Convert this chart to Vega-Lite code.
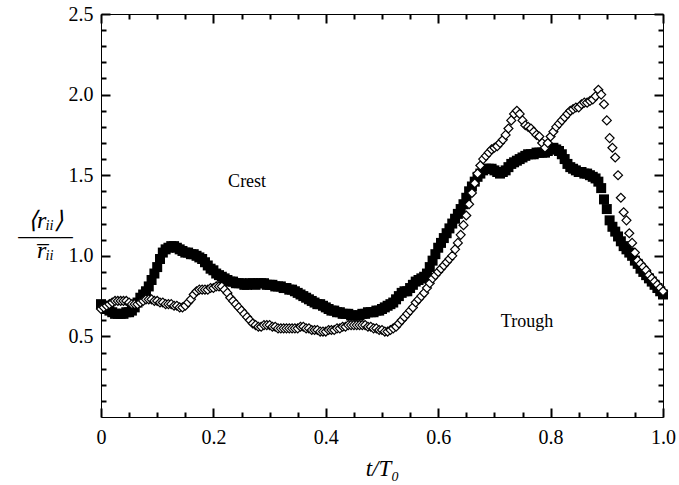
{
"$schema": "https://vega.github.io/schema/vega-lite/v6.json",
"width": 562, "height": 403,
"autosize": "none",
"padding": {"left": 101, "top": 14, "right": 16, "bottom": 68},
"background": "white",
"config": {"view": {"stroke": "black", "strokeWidth": 1}, "font": "Liberation Serif",
  "axis": {"grid": false, "domain": false, "labelColor": "black", "titleColor": "black", "labelFont": "Liberation Serif", "titleFont": "Liberation Serif", "labelFontSize": 20, "labelOverlap": false, "labelFlush": false}},
"data": {"values": [
{"t":0.000,"a":0.70,"b":0.67},{"t":0.005,"a":0.69,"b":0.68},{"t":0.010,"a":0.67,"b":0.69},{"t":0.015,"a":0.66,"b":0.70},{"t":0.020,"a":0.65,"b":0.71},
{"t":0.025,"a":0.64,"b":0.72},{"t":0.030,"a":0.64,"b":0.72},{"t":0.035,"a":0.64,"b":0.72},{"t":0.040,"a":0.64,"b":0.72},{"t":0.045,"a":0.65,"b":0.72},
{"t":0.050,"a":0.65,"b":0.71},{"t":0.055,"a":0.66,"b":0.70},{"t":0.060,"a":0.68,"b":0.70},{"t":0.065,"a":0.71,"b":0.70},{"t":0.070,"a":0.74,"b":0.71},
{"t":0.075,"a":0.76,"b":0.72},{"t":0.080,"a":0.78,"b":0.73},{"t":0.085,"a":0.81,"b":0.73},{"t":0.090,"a":0.85,"b":0.73},{"t":0.095,"a":0.89,"b":0.72},
{"t":0.100,"a":0.93,"b":0.72},{"t":0.105,"a":0.98,"b":0.71},{"t":0.110,"a":1.02,"b":0.71},{"t":0.115,"a":1.04,"b":0.70},{"t":0.120,"a":1.05,"b":0.70},
{"t":0.125,"a":1.06,"b":0.70},{"t":0.130,"a":1.06,"b":0.69},{"t":0.135,"a":1.05,"b":0.69},{"t":0.140,"a":1.04,"b":0.68},{"t":0.145,"a":1.03,"b":0.68},
{"t":0.150,"a":1.02,"b":0.69},{"t":0.155,"a":1.02,"b":0.71},{"t":0.160,"a":1.01,"b":0.73},{"t":0.165,"a":1.01,"b":0.76},{"t":0.170,"a":1.00,"b":0.78},
{"t":0.175,"a":0.99,"b":0.79},{"t":0.180,"a":0.98,"b":0.79},{"t":0.185,"a":0.96,"b":0.79},{"t":0.190,"a":0.94,"b":0.79},{"t":0.195,"a":0.92,"b":0.80},
{"t":0.200,"a":0.91,"b":0.80},{"t":0.205,"a":0.89,"b":0.81},{"t":0.210,"a":0.88,"b":0.81},{"t":0.215,"a":0.87,"b":0.81},{"t":0.220,"a":0.86,"b":0.79},
{"t":0.225,"a":0.85,"b":0.77},{"t":0.230,"a":0.84,"b":0.74},{"t":0.235,"a":0.84,"b":0.72},{"t":0.240,"a":0.83,"b":0.70},{"t":0.245,"a":0.83,"b":0.68},
{"t":0.250,"a":0.83,"b":0.66},{"t":0.255,"a":0.82,"b":0.64},{"t":0.260,"a":0.82,"b":0.62},{"t":0.265,"a":0.83,"b":0.60},{"t":0.270,"a":0.83,"b":0.58},
{"t":0.275,"a":0.82,"b":0.57},{"t":0.280,"a":0.83,"b":0.56},{"t":0.285,"a":0.83,"b":0.56},{"t":0.290,"a":0.83,"b":0.57},{"t":0.295,"a":0.82,"b":0.57},
{"t":0.300,"a":0.82,"b":0.57},{"t":0.305,"a":0.82,"b":0.56},{"t":0.310,"a":0.81,"b":0.56},{"t":0.315,"a":0.81,"b":0.55},{"t":0.320,"a":0.81,"b":0.55},
{"t":0.325,"a":0.80,"b":0.55},{"t":0.330,"a":0.80,"b":0.55},{"t":0.335,"a":0.79,"b":0.55},{"t":0.340,"a":0.79,"b":0.55},{"t":0.345,"a":0.78,"b":0.55},
{"t":0.350,"a":0.77,"b":0.55},{"t":0.355,"a":0.76,"b":0.56},{"t":0.360,"a":0.75,"b":0.56},{"t":0.365,"a":0.74,"b":0.55},{"t":0.370,"a":0.73,"b":0.55},
{"t":0.375,"a":0.72,"b":0.54},{"t":0.380,"a":0.71,"b":0.54},{"t":0.385,"a":0.70,"b":0.54},{"t":0.390,"a":0.70,"b":0.53},{"t":0.395,"a":0.69,"b":0.53},
{"t":0.400,"a":0.68,"b":0.53},{"t":0.405,"a":0.67,"b":0.54},{"t":0.410,"a":0.66,"b":0.54},{"t":0.415,"a":0.66,"b":0.54},{"t":0.420,"a":0.65,"b":0.55},
{"t":0.425,"a":0.65,"b":0.55},{"t":0.430,"a":0.64,"b":0.56},{"t":0.435,"a":0.64,"b":0.56},{"t":0.440,"a":0.64,"b":0.57},{"t":0.445,"a":0.63,"b":0.57},
{"t":0.450,"a":0.63,"b":0.57},{"t":0.455,"a":0.63,"b":0.57},{"t":0.460,"a":0.63,"b":0.57},{"t":0.465,"a":0.64,"b":0.57},{"t":0.470,"a":0.64,"b":0.57},
{"t":0.475,"a":0.65,"b":0.56},{"t":0.480,"a":0.65,"b":0.56},{"t":0.485,"a":0.65,"b":0.55},{"t":0.490,"a":0.66,"b":0.55},{"t":0.495,"a":0.66,"b":0.54},
{"t":0.500,"a":0.67,"b":0.54},{"t":0.505,"a":0.68,"b":0.53},{"t":0.510,"a":0.69,"b":0.53},{"t":0.515,"a":0.70,"b":0.54},{"t":0.520,"a":0.71,"b":0.55},
{"t":0.525,"a":0.73,"b":0.56},{"t":0.530,"a":0.75,"b":0.58},{"t":0.535,"a":0.77,"b":0.60},{"t":0.540,"a":0.78,"b":0.62},{"t":0.545,"a":0.78,"b":0.64},
{"t":0.550,"a":0.80,"b":0.66},{"t":0.555,"a":0.82,"b":0.68},{"t":0.560,"a":0.84,"b":0.71},{"t":0.565,"a":0.85,"b":0.73},{"t":0.570,"a":0.86,"b":0.75},
{"t":0.575,"a":0.87,"b":0.77},{"t":0.580,"a":0.89,"b":0.80},{"t":0.585,"a":0.93,"b":0.83},{"t":0.590,"a":0.97,"b":0.86},{"t":0.595,"a":1.01,"b":0.88},
{"t":0.600,"a":1.05,"b":0.90},{"t":0.605,"a":1.08,"b":0.92},{"t":0.610,"a":1.11,"b":0.94},{"t":0.615,"a":1.14,"b":0.96},{"t":0.620,"a":1.17,"b":0.98},
{"t":0.625,"a":1.20,"b":1.00},{"t":0.630,"a":1.23,"b":1.04},{"t":0.635,"a":1.26,"b":1.08},{"t":0.640,"a":1.29,"b":1.13},{"t":0.645,"a":1.32,"b":1.19},
{"t":0.650,"a":1.36,"b":1.25},{"t":0.655,"a":1.40,"b":1.32},{"t":0.660,"a":1.43,"b":1.39},{"t":0.665,"a":1.46,"b":1.45},{"t":0.670,"a":1.49,"b":1.51},
{"t":0.675,"a":1.51,"b":1.56},{"t":0.680,"a":1.53,"b":1.60},{"t":0.685,"a":1.54,"b":1.62},{"t":0.690,"a":1.54,"b":1.64},{"t":0.695,"a":1.54,"b":1.66},
{"t":0.700,"a":1.53,"b":1.67},{"t":0.705,"a":1.52,"b":1.68},{"t":0.710,"a":1.51,"b":1.70},{"t":0.715,"a":1.52,"b":1.72},{"t":0.720,"a":1.53,"b":1.75},
{"t":0.725,"a":1.55,"b":1.79},{"t":0.730,"a":1.57,"b":1.84},{"t":0.735,"a":1.58,"b":1.88},{"t":0.740,"a":1.59,"b":1.90},{"t":0.745,"a":1.60,"b":1.88},
{"t":0.750,"a":1.61,"b":1.84},{"t":0.755,"a":1.62,"b":1.81},{"t":0.760,"a":1.63,"b":1.80},{"t":0.765,"a":1.63,"b":1.79},{"t":0.770,"a":1.63,"b":1.77},
{"t":0.775,"a":1.64,"b":1.75},{"t":0.780,"a":1.64,"b":1.74},{"t":0.785,"a":1.64,"b":1.70},{"t":0.790,"a":1.64,"b":1.67},{"t":0.795,"a":1.65,"b":1.70},
{"t":0.800,"a":1.66,"b":1.74},{"t":0.805,"a":1.67,"b":1.77},{"t":0.810,"a":1.66,"b":1.80},{"t":0.815,"a":1.65,"b":1.82},{"t":0.820,"a":1.63,"b":1.84},
{"t":0.825,"a":1.60,"b":1.86},{"t":0.830,"a":1.57,"b":1.88},{"t":0.835,"a":1.55,"b":1.90},{"t":0.840,"a":1.54,"b":1.91},{"t":0.845,"a":1.53,"b":1.92},
{"t":0.850,"a":1.52,"b":1.92},{"t":0.855,"a":1.52,"b":1.94},{"t":0.860,"a":1.51,"b":1.95},{"t":0.865,"a":1.51,"b":1.95},{"t":0.870,"a":1.50,"b":1.96},
{"t":0.875,"a":1.49,"b":1.97},{"t":0.880,"a":1.48,"b":1.99},{"t":0.885,"a":1.46,"b":2.03},{"t":0.890,"a":1.42,"b":2.00},{"t":0.895,"a":1.35,"b":1.94},
{"t":0.900,"a":1.29,"b":1.84},{"t":0.905,"a":1.22,"b":1.73},{"t":0.910,"a":1.18,"b":1.67},{"t":0.915,"a":1.15,"b":1.61},{"t":0.920,"a":1.12,"b":1.50},
{"t":0.925,"a":1.09,"b":1.36},{"t":0.930,"a":1.06,"b":1.27},{"t":0.935,"a":1.04,"b":1.22},{"t":0.940,"a":1.02,"b":1.14},{"t":0.945,"a":1.00,"b":1.08},
{"t":0.950,"a":0.97,"b":1.02},{"t":0.955,"a":0.95,"b":0.97},{"t":0.960,"a":0.92,"b":0.95},{"t":0.965,"a":0.90,"b":0.93},{"t":0.970,"a":0.88,"b":0.91},
{"t":0.975,"a":0.86,"b":0.88},{"t":0.980,"a":0.84,"b":0.86},{"t":0.985,"a":0.82,"b":0.84},{"t":0.990,"a":0.80,"b":0.82},{"t":0.995,"a":0.78,"b":0.80},
{"t":1.000,"a":0.76,"b":0.78}
]},
"layer": [
{"mark": {"type": "point", "shape": "square", "filled": true, "color": "black", "size": 100, "opacity": 1},
 "encoding": {
  "x": {"field": "t", "type": "quantitative", "scale": {"domain": [0, 1], "nice": false, "zero": false},
   "axis": {"orient": "bottom", "values": [0, 0.2, 0.4, 0.6, 0.8, 1], "offset": -9, "tickSize": 9, "ticks": true, "tickColor": "black", "tickWidth": 2, "labelPadding": 10,
    "labelExpr": "datum.value < 0.01 ? '0' : format(datum.value, '.1f')",
    "title": "t/T₀", "titleFontStyle": "italic", "titleFontWeight": "normal", "titleFontSize": 23, "titlePadding": 10}},
  "y": {"field": "a", "type": "quantitative", "scale": {"domain": [0, 2.5], "nice": false, "zero": false},
   "axis": {"orient": "left", "values": [0.5, 1, 1.5, 2, 2.5], "offset": -9, "tickSize": 9, "ticks": true, "tickColor": "black", "tickWidth": 2, "labelPadding": 8,
    "labelExpr": "format(datum.value, '.1f')",
    "title": ["⟨rᵢᵢ⟩", "——–", "r̅ᵢᵢ"], "titleAngle": 0, "titleAlign": "center", "titleBaseline": "middle",
    "titleX": -65, "titleY": 206, "titleFontStyle": "italic", "titleFontWeight": "normal", "titleFontSize": 24, "titleLineHeight": 15}}
 }},
{"mark": {"type": "point", "shape": "diamond", "filled": true, "fill": "white", "stroke": "black", "strokeWidth": 1.2, "size": 80, "opacity": 1},
 "encoding": {
  "x": {"field": "t", "type": "quantitative",
   "axis": {"orient": "top", "values": [0, 0.2, 0.4, 0.6, 0.8, 1], "offset": -9, "tickSize": 9, "ticks": true, "tickColor": "black", "tickWidth": 2, "labels": false, "title": null}},
  "y": {"field": "b", "type": "quantitative",
   "axis": {"orient": "right", "values": [0.5, 1, 1.5, 2, 2.5], "offset": -9, "tickSize": 9, "ticks": true, "tickColor": "black", "tickWidth": 2, "labels": false, "title": null}}
 }},
{"data": {"values": [{"t": 0.26, "v": 1.46, "label": "Crest"}]},
 "mark": {"type": "text", "font": "Liberation Serif", "fontSize": 18, "color": "black"},
 "encoding": {
  "x": {"field": "t", "type": "quantitative",
   "axis": {"orient": "bottom", "values": [0.05,0.1,0.15,0.25,0.3,0.35,0.45,0.5,0.55,0.65,0.7,0.75,0.85,0.9,0.95], "offset": -5, "tickSize": 5, "ticks": true, "tickColor": "black", "tickWidth": 2, "labels": false, "title": null}},
  "y": {"field": "v", "type": "quantitative",
   "axis": {"orient": "left", "values": [0.1,0.2,0.3,0.4,0.6,0.7,0.8,0.9,1.1,1.2,1.3,1.4,1.6,1.7,1.8,1.9,2.1,2.2,2.3,2.4], "offset": -5, "tickSize": 5, "ticks": true, "tickColor": "black", "tickWidth": 2, "labels": false, "title": null}},
  "text": {"field": "label"}
 }},
{"data": {"values": [{"t": 0.758, "v": 0.59, "label": "Trough"}]},
 "mark": {"type": "text", "font": "Liberation Serif", "fontSize": 18, "color": "black"},
 "encoding": {
  "x": {"field": "t", "type": "quantitative",
   "axis": {"orient": "top", "values": [0.05,0.1,0.15,0.25,0.3,0.35,0.45,0.5,0.55,0.65,0.7,0.75,0.85,0.9,0.95], "offset": -5, "tickSize": 5, "ticks": true, "tickColor": "black", "tickWidth": 2, "labels": false, "title": null}},
  "y": {"field": "v", "type": "quantitative",
   "axis": {"orient": "right", "values": [0.1,0.2,0.3,0.4,0.6,0.7,0.8,0.9,1.1,1.2,1.3,1.4,1.6,1.7,1.8,1.9,2.1,2.2,2.3,2.4], "offset": -5, "tickSize": 5, "ticks": true, "tickColor": "black", "tickWidth": 2, "labels": false, "title": null}},
  "text": {"field": "label"}
 }}
],
"resolve": {"axis": {"x": "independent", "y": "independent"}}
}
